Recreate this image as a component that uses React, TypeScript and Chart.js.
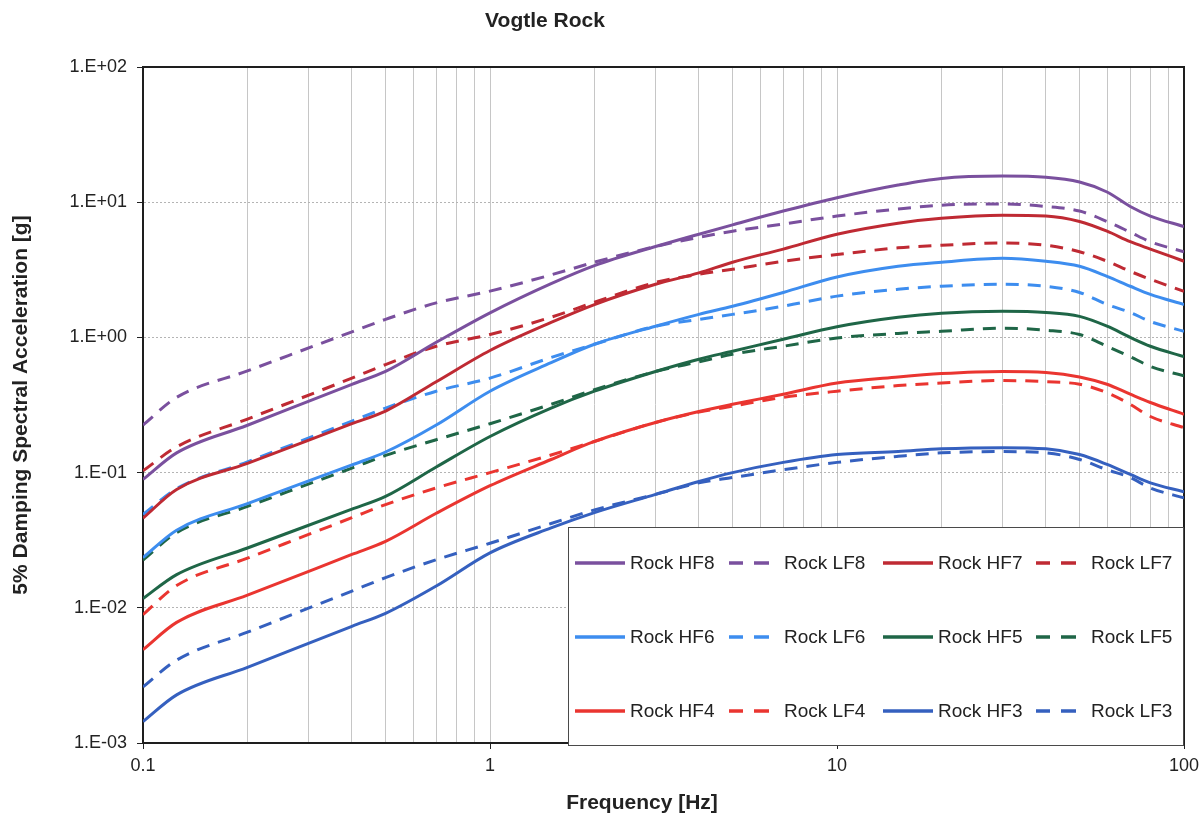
import React, { useEffect, useRef } from 'react';
import { Chart, registerables } from 'chart.js';

Chart.register(...registerables);

// ---- Data ----
const frequencies = [0.1, 0.125, 0.2, 0.4, 0.5, 0.7, 1, 1.5, 2, 3, 4, 5, 7, 10, 15, 20, 30, 40, 50, 60, 70, 80, 100];

const rockHF8 = [0.089, 0.14, 0.224, 0.45, 0.56, 0.92, 1.52, 2.5, 3.4, 4.7, 5.8, 6.8, 8.6, 10.8, 13.4, 15.0, 15.6, 15.3, 14.1, 11.9, 9.3, 7.9, 6.6];
const rockLF8 = [0.225, 0.36, 0.565, 1.1, 1.36, 1.8, 2.2, 2.9, 3.6, 4.7, 5.5, 6.1, 6.9, 7.9, 8.9, 9.5, 9.7, 9.3, 8.6, 7.2, 6.0, 5.1, 4.3];
const rockHF7 = [0.046, 0.075, 0.117, 0.23, 0.285, 0.47, 0.8, 1.29, 1.75, 2.47, 3.0, 3.6, 4.5, 5.8, 7.0, 7.6, 8.0, 7.9, 7.2, 6.1, 5.1, 4.5, 3.66];
const rockLF7 = [0.103, 0.155, 0.249, 0.5, 0.63, 0.86, 1.05, 1.41, 1.82, 2.55, 2.93, 3.19, 3.66, 4.1, 4.6, 4.8, 5.0, 4.8, 4.3, 3.66, 3.08, 2.69, 2.19];
const rockHF6 = [0.0235, 0.0375, 0.059, 0.114, 0.142, 0.225, 0.4, 0.65, 0.89, 1.21, 1.48, 1.7, 2.15, 2.8, 3.36, 3.6, 3.85, 3.66, 3.36, 2.83, 2.39, 2.08, 1.75];
const rockLF6 = [0.049, 0.076, 0.12, 0.24, 0.3, 0.4, 0.5, 0.71, 0.89, 1.21, 1.36, 1.48, 1.7, 2.02, 2.27, 2.39, 2.47, 2.39, 2.15, 1.75, 1.53, 1.31, 1.11];
const rockHF5 = [0.0117, 0.0176, 0.0277, 0.0536, 0.0667, 0.11, 0.185, 0.3, 0.4, 0.56, 0.69, 0.79, 0.97, 1.2, 1.41, 1.51, 1.56, 1.53, 1.43, 1.21, 1.0, 0.86, 0.72];
const rockLF5 = [0.0225, 0.036, 0.0562, 0.108, 0.134, 0.175, 0.23, 0.32, 0.41, 0.56, 0.66, 0.75, 0.86, 0.99, 1.07, 1.11, 1.17, 1.13, 1.05, 0.86, 0.72, 0.61, 0.52];
const rockHF4 = [0.0049, 0.0078, 0.0124, 0.0248, 0.031, 0.05, 0.08, 0.125, 0.17, 0.235, 0.283, 0.32, 0.38, 0.46, 0.51, 0.54, 0.56, 0.55, 0.51, 0.45, 0.38, 0.33, 0.27];
const rockLF4 = [0.0089, 0.0146, 0.0233, 0.0464, 0.058, 0.077, 0.1, 0.135, 0.17, 0.235, 0.28, 0.31, 0.36, 0.4, 0.44, 0.46, 0.48, 0.47, 0.45, 0.39, 0.32, 0.26, 0.215];
const rockHF3 = [0.00144, 0.00227, 0.00363, 0.0073, 0.0091, 0.0145, 0.0255, 0.039, 0.0506, 0.069, 0.086, 0.1, 0.119, 0.136, 0.143, 0.15, 0.153, 0.15, 0.136, 0.115, 0.097, 0.084, 0.072];
const rockLF3 = [0.0026, 0.0041, 0.0066, 0.0133, 0.0167, 0.0227, 0.03, 0.042, 0.053, 0.069, 0.084, 0.092, 0.105, 0.119, 0.132, 0.14, 0.143, 0.14, 0.125, 0.105, 0.092, 0.077, 0.065];

const seriesNames = ['Rock HF8', 'Rock LF8', 'Rock HF7', 'Rock LF7', 'Rock HF6', 'Rock LF6', 'Rock HF5', 'Rock LF5', 'Rock HF4', 'Rock LF4', 'Rock HF3', 'Rock LF3'];
const seriesValues = [rockHF8, rockLF8, rockHF7, rockLF7, rockHF6, rockLF6, rockHF5, rockLF5, rockHF4, rockLF4, rockHF3, rockLF3];
const seriesColors = ['#7a509e', '#7a509e', '#bf2a33', '#bf2a33', '#3d8def', '#3d8def', '#1f6647', '#1f6647', '#ea3530', '#ea3530', '#3560bf', '#3560bf'];
const seriesDashed = [false, true, false, true, false, true, false, true, false, true, false, true];

const xTickValues = [0.1, 1, 10, 100];
const xTickLabels = ['0.1', '1', '10', '100'];
const yTickValues = [0.001, 0.01, 0.1, 1, 10, 100];
const yTickLabels = ['1.E-03', '1.E-02', '1.E-01', '1.E+00', '1.E+01', '1.E+02'];

const chartTitle = 'Vogtle Rock';
const xTitle = 'Frequency [Hz]';
const yTitle = '5% Damping Spectral Acceleration [g]';

const FONT = '"Liberation Sans", Arial, Helvetica, sans-serif';

// minor grid positions for the log x axis
const xGridValues: number[] = [];
for (let d = 0.1; d < 100; d *= 10) {
  for (let m = 1; m < 10; m++) xGridValues.push(+(d * m).toPrecision(3));
}
xGridValues.push(100);

const isMajor = (v: number) => xTickValues.some((t) => Math.abs(t - v) / t < 1e-6);

const decorPlugin = {
  id: 'decor',
  beforeDatasetsDraw(chart: any) {
    const { ctx, chartArea: a } = chart;
    ctx.save();
    ctx.strokeStyle = '#1e1e1e';
    ctx.lineWidth = 2;
    ctx.strokeRect(a.left, a.top, a.right - a.left, a.bottom - a.top);
    ctx.restore();
  },
  afterDraw(chart: any) {
    const { ctx, chartArea: a } = chart;
    ctx.save();
    // chart title
    ctx.fillStyle = '#222';
    ctx.textAlign = 'center';
    ctx.textBaseline = 'middle';
    ctx.font = `bold 21px ${FONT}`;
    ctx.fillText(chartTitle, 545, 21);
    // x axis title
    ctx.font = `bold 21px ${FONT}`;
    ctx.fillText(xTitle, 642, 803);

    // legend box
    const boxL = 568;
    const boxT = 527;
    const boxR = a.right;
    const boxB = 746;
    ctx.fillStyle = '#ffffff';
    ctx.fillRect(boxL, boxT, boxR - boxL, boxB - boxT);
    ctx.strokeStyle = '#4a4a4a';
    ctx.lineWidth = 1;
    ctx.strokeRect(boxL + 0.5, boxT + 0.5, boxR - boxL - 1, boxB - boxT - 1);

    const colX = [575, 729, 883, 1036];
    const rowY = [563, 637, 711];
    ctx.font = `19px ${FONT}`;
    ctx.textAlign = 'left';
    ctx.textBaseline = 'middle';
    chart.data.datasets.forEach((ds: any, i: number) => {
      const c = i % 4;
      const r = Math.floor(i / 4);
      const x = colX[c];
      const y = rowY[r];
      ctx.strokeStyle = ds.borderColor;
      ctx.lineWidth = 3.5;
      ctx.lineCap = 'butt';
      ctx.beginPath();
      if (seriesDashed[i]) {
        ctx.moveTo(x, y);
        ctx.lineTo(x + 14, y);
        ctx.moveTo(x + 25, y);
        ctx.lineTo(x + 40, y);
      } else {
        ctx.moveTo(x, y);
        ctx.lineTo(x + 50, y);
      }
      ctx.stroke();
      ctx.fillStyle = '#222';
      ctx.fillText(ds.label, x + 55, y + 1);
    });
    ctx.restore();
  },
};

export default function App() {
  const canvasRef = useRef<HTMLCanvasElement | null>(null);

  useEffect(() => {
    if (!canvasRef.current) return;
    const datasets = seriesNames.map((name, i) => ({
      label: name,
      data: frequencies.map((f, j) => ({ x: f, y: seriesValues[i][j] })),
      borderColor: seriesColors[i],
      backgroundColor: seriesColors[i],
      borderWidth: 3,
      borderDash: seriesDashed[i] ? [13, 9] : [],
      borderCapStyle: 'butt',
      pointRadius: 0,
      pointHoverRadius: 0,
      fill: false,
      cubicInterpolationMode: 'monotone',
    }));

    const chart = new Chart(canvasRef.current, {
      type: 'line',
      data: { datasets } as any,
      options: {
        responsive: false,
        animation: false,
        layout: { padding: { top: 67, right: 17, bottom: 0, left: 0 } },
        plugins: {
          legend: { display: false },
          title: { display: false },
          tooltip: { enabled: false },
        },
        scales: {
          x: {
            type: 'logarithmic',
            min: 0.1,
            max: 100,
            afterBuildTicks: (s: any) => {
              s.ticks = xGridValues.map((v) => ({ value: v }));
            },
            afterFit: (s: any) => {
              s.height = 73;
              s.paddingLeft = 0;
              s.paddingRight = 0;
            },
            ticks: {
              autoSkip: false,
              maxRotation: 0,
              minRotation: 0,
              padding: 6,
              color: '#222',
              font: { family: FONT, size: 18 },
              callback: (v: any) => {
                const idx = xTickValues.findIndex((t) => Math.abs(t - Number(v)) / t < 1e-6);
                return idx >= 0 ? xTickLabels[idx] : '';
              },
            },
            grid: {
              color: '#c6c6c6',
              lineWidth: 1,
              drawTicks: true,
              tickLength: 6,
              tickColor: (c: any) => (c.tick && isMajor(c.tick.value) ? '#222' : 'rgba(0,0,0,0)'),
            },
            border: { display: true, color: '#1e1e1e', width: 2 },
          },
          y: {
            type: 'logarithmic',
            min: 0.001,
            max: 100,
            afterBuildTicks: (s: any) => {
              s.ticks = yTickValues.map((v) => ({ value: v }));
            },
            afterFit: (s: any) => {
              s.width = 143;
              s.paddingTop = 0;
              s.paddingBottom = 0;
            },
            ticks: {
              autoSkip: false,
              padding: 10,
              color: '#222',
              font: { family: FONT, size: 18 },
              callback: (v: any) => {
                const idx = yTickValues.findIndex((t) => Math.abs(t - Number(v)) / t < 1e-6);
                return idx >= 0 ? yTickLabels[idx] : '';
              },
            },
            grid: {
              color: '#b4b4b4',
              lineWidth: 1,
              drawTicks: true,
              tickLength: 6,
              tickColor: '#222',
            },
            border: { display: true, color: '#1e1e1e', width: 2, dash: [2, 2] },
            title: {
              display: true,
              text: yTitle,
              color: '#222',
              font: { family: FONT, size: 21, weight: 'bold' },
              padding: { top: 9, bottom: 0 },
            },
          },
        },
      } as any,
      plugins: [decorPlugin],
    });
    return () => chart.destroy();
  }, []);

  return (
    <div style={{ position: 'absolute', left: 0, top: 0, width: 1201, height: 816, background: '#fff' }}>
      <canvas ref={canvasRef} width={1201} height={816} style={{ display: 'block' }} />
    </div>
  );
}
